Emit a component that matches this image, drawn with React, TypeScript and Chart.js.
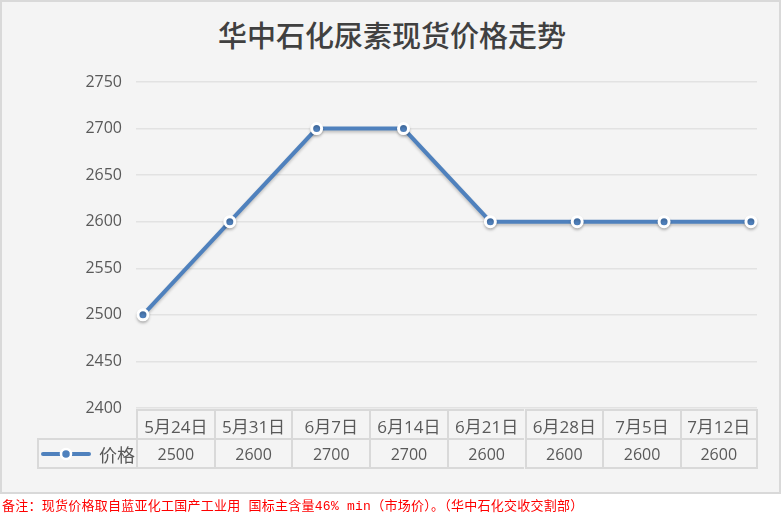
import { useEffect, useRef } from 'react'
import { Chart, registerables } from 'chart.js'

Chart.register(...registerables)

// chart data
const categories = ['5月24日', '5月31日', '6月7日', '6月14日', '6月21日', '6月28日', '7月5日', '7月12日']
const prices = [2500, 2600, 2700, 2700, 2600, 2600, 2600, 2600]
const seriesName = '价格'
const yMin = 2400
const yMax = 2750
const yStep = 50

const title = '华中石化尿素现货价格走势'
const footnote = '备注：现货价格取自蓝亚化工国产工业用 国标主含量46% min（市场价）。（华中石化交收交割部）'

const blue = '#4f81bd'
const gridColor = '#e2e2e2'
const borderColor = '#d9d9d9'
const textColor = '#595959'

// soft drop shadow under the line, like the Excel default
const shadowPlugin = {
  id: 'lineShadow',
  beforeDatasetsDraw(chart: Chart) {
    const ctx = chart.ctx
    ctx.save()
    ctx.shadowColor = 'rgba(0,0,0,0.22)'
    ctx.shadowBlur = 3
    ctx.shadowOffsetY = 2
  },
  afterDatasetsDraw(chart: Chart) {
    chart.ctx.restore()
  }
}

function PriceTable() {
  const left = 136
  const colW = 77.7
  const top = 409
  const row1 = 31
  const row2 = 29
  const cellFont = '16px "Open Sans", "Noto Sans CJK SC", sans-serif'
  return (
    <>
      {/* header row */}
      {categories.map((c, i) => (
        <div
          key={'h' + i}
          style={{
            position: 'absolute',
            left: left + i * colW,
            top,
            width: colW,
            height: row1,
            borderTop: `2px solid ${borderColor}`,
            borderLeft: `2px solid ${borderColor}`,
            borderRight: i === categories.length - 1 ? `2px solid ${borderColor}` : undefined,
            boxSizing: 'border-box',
            display: 'flex',
            alignItems: 'center',
            justifyContent: 'center',
            font: '17px "Open Sans", "Noto Sans CJK SC", sans-serif',
            color: textColor,
            whiteSpace: 'nowrap'
          }}
        >
          {c}
        </div>
      ))}
      {/* legend cell */}
      <div
        style={{
          position: 'absolute',
          left: 37,
          top: top + row1 - 2,
          width: left - 37 + 2,
          height: row2 + 2,
          borderTop: `2px solid ${borderColor}`,
          borderLeft: `2px solid ${borderColor}`,
          borderBottom: `2px solid ${borderColor}`,
          boxSizing: 'border-box',
          display: 'flex',
          alignItems: 'center',
          font: '18px "Noto Sans CJK SC", sans-serif',
          color: textColor
        }}
      >
        <svg width="52" height="14" style={{ marginLeft: 2, marginRight: 6 }}>
          <line x1="2" y1="7" x2="48" y2="7" stroke={blue} strokeWidth="4" strokeLinecap="round" />
          <circle cx="25" cy="7" r="5" fill={blue} stroke="#fff" strokeWidth="2.5" />
        </svg>
        <span style={{ lineHeight: 1 }}>{seriesName}</span>
      </div>
      {/* value row */}
      {prices.map((p, i) => (
        <div
          key={'v' + i}
          style={{
            position: 'absolute',
            left: left + i * colW,
            top: top + row1 - 2,
            width: colW,
            height: row2 + 2,
            borderTop: `2px solid ${borderColor}`,
            borderLeft: `2px solid ${borderColor}`,
            borderBottom: `2px solid ${borderColor}`,
            borderRight: i === prices.length - 1 ? `2px solid ${borderColor}` : undefined,
            boxSizing: 'border-box',
            display: 'flex',
            alignItems: 'center',
            justifyContent: 'center',
            font: cellFont,
            color: textColor
          }}
        >
          {p}
        </div>
      ))}
    </>
  )
}

export default function App() {
  const canvasRef = useRef<HTMLCanvasElement>(null)
  const chartRef = useRef<Chart | null>(null)

  useEffect(() => {
    if (!canvasRef.current) return
    if (chartRef.current) chartRef.current.destroy()

    chartRef.current = new Chart(canvasRef.current, {
      type: 'line',
      data: {
        datasets: [
          {
            label: seriesName,
            data: prices.map((v, i) => ({ x: i, y: v })),
            borderColor: blue,
            borderWidth: 4,
            backgroundColor: blue,
            pointBackgroundColor: blue,
            pointBorderColor: '#ffffff',
            pointBorderWidth: 3,
            pointRadius: 5,
            tension: 0,
            clip: false
          }
        ]
      },
      options: {
        responsive: false,
        animation: false,
        layout: { padding: { top: 82, bottom: 109, right: 27, left: 0 } },
        plugins: {
          legend: { display: false },
          tooltip: { enabled: false },
          title: { display: false }
        },
        scales: {
          x: {
            type: 'linear',
            display: false,
            min: -0.08,
            max: categories.length - 1 + 0.07
          },
          y: {
            min: yMin,
            max: yMax,
            afterFit(scale: any) {
              scale.width = 136
            },
            border: { display: false },
            grid: { color: gridColor, lineWidth: 1.5, drawTicks: false },
            ticks: {
              stepSize: yStep,
              padding: 14,
              color: textColor,
              font: { family: '"Open Sans", sans-serif', size: 16 },
              callback: (v: any) => String(v)
            }
          }
        }
      },
      plugins: [shadowPlugin]
    })

    return () => {
      if (chartRef.current) {
        chartRef.current.destroy()
        chartRef.current = null
      }
    }
  }, [])

  return (
    <div style={{ position: 'fixed', left: 0, top: 0, width: 784, height: 517, background: '#fff', overflow: 'hidden' }}>
      <div
        style={{
          position: 'absolute',
          left: 0,
          top: 0,
          width: 781,
          height: 494,
          background: '#f4f4f4',
          border: `2px solid ${borderColor}`,
          boxSizing: 'border-box'
        }}
      />
      <div
        style={{
          position: 'absolute',
          left: 0,
          top: 14,
          width: 784,
          textAlign: 'center',
          font: '500 29px "Noto Sans CJK SC", sans-serif',
          color: '#404040',
          lineHeight: '40px'
        }}
      >
        {title}
      </div>
      <canvas ref={canvasRef} width={784} height={517} style={{ position: 'absolute', left: 0, top: 0 }} />
      <PriceTable />
      <div
        style={{
          position: 'absolute',
          left: 2,
          top: 498,
          font: '13px "Liberation Mono", "Noto Sans CJK SC", monospace',
          letterSpacing: '0.25px',
          color: '#ff0000',
          whiteSpace: 'nowrap',
          lineHeight: '18px'
        }}
      >
        {footnote}
      </div>
    </div>
  )
}
